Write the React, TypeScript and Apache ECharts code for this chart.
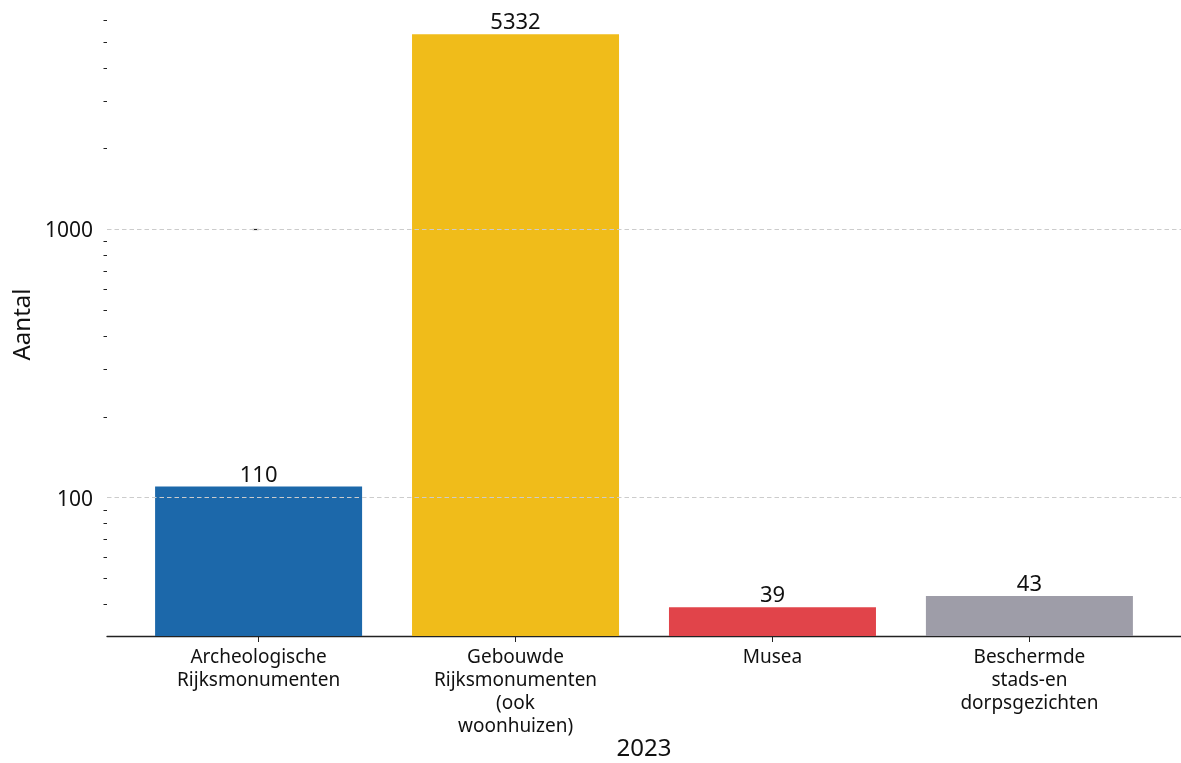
import React, { useEffect, useRef } from "react";
import * as echarts from "echarts";

const categories = [
  "Archeologische\nRijksmonumenten",
  "Gebouwde\nRijksmonumenten\n(ook\nwoonhuizen)",
  "Musea",
  "Beschermde\nstads-en\ndorpsgezichten",
];
const values = [110, 5332, 39, 43];
const colors = ["#1c68aa", "#f0bc1a", "#e1444a", "#9e9da8"];
const majorTicks = [100, 1000];
const minorTicks = [40, 50, 60, 70, 80, 90, 200, 300, 400, 500, 600, 700, 800, 900, 2000, 3000, 4000, 5000, 6000];
const yName = "Aantal";
const xName = "2023";

const FONT = "Noto Sans";

export default function App() {
  const ref = useRef<HTMLDivElement>(null);
  useEffect(() => {
    if (!ref.current) return;
    const chart = echarts.init(ref.current, null, { renderer: "svg" });
    const positions = categories.map((_, i) => i);
    chart.setOption({
      animation: false,
      textStyle: { fontFamily: FONT, color: "#111" },
      grid: { left: 107, right: -10.5, top: 13, bottom: 123, containLabel: false },
      xAxis: [
        {
          type: "value",
          min: -0.59,
          max: 3.59,
          name: xName,
          nameLocation: "middle",
          nameGap: 98,
          nameMoveOverlap: false,
          nameTextStyle: { fontSize: 24, color: "#111", fontFamily: FONT },
          axisLine: { show: true, onZero: false, lineStyle: { color: "#222", width: 1.3 } },
          axisTick: { show: true, customValues: positions, length: 6, lineStyle: { color: "#222" } },
          axisLabel: {
            customValues: positions,
            formatter: (v: number) => categories[Math.round(v)] ?? "",
            fontSize: 19,
            lineHeight: 23,
            color: "#111",
            margin: 8,
            fontFamily: FONT,
          },
          splitLine: { show: false },
        },
      ],
      yAxis: [
        {
          type: "log",
          min: 30.5,
          max: 6400,
          name: yName,
          nameLocation: "middle",
          nameGap: 75,
          nameMoveOverlap: false,
          nameTextStyle: { fontSize: 24, color: "#111", fontFamily: FONT },
          axisLine: { show: false },
          axisTick: { show: true, customValues: majorTicks, length: 6, lineStyle: { color: "#222", width: 1.2 } },
          axisLabel: {
            customValues: majorTicks,
            formatter: (v: number) => String(v),
            fontSize: 21,
            color: "#111",
            margin: 14,
            fontFamily: FONT,
          },
          splitLine: { show: false },
        },
        {
          type: "log",
          min: 30.5,
          max: 6400,
          position: "left",
          axisLine: { show: false },
          axisTick: { show: true, customValues: minorTicks, length: 3.5, lineStyle: { color: "#222", width: 1 } },
          axisLabel: { show: false },
          splitLine: { show: false },
        },
        {
          type: "log",
          min: 30.5,
          max: 6400,
          position: "left",
          z: 10,
          axisLine: { show: false },
          axisTick: { show: false, customValues: majorTicks },
          axisLabel: { show: false, customValues: majorTicks },
          splitLine: { show: true, lineStyle: { color: "#cccccc", type: [4.5, 3], width: 1 } },
        },
      ],
      series: [
        {
          type: "bar",
          xAxisIndex: 0,
          yAxisIndex: 0,
          barWidth: 207,
          data: values.map((v, i) => ({ value: [i, v], itemStyle: { color: colors[i] } })),
          label: {
            show: true,
            position: "top",
            distance: 3,
            fontSize: 22,
            color: "#111",
            fontFamily: FONT,
            formatter: (p: any) => String(p.value[1]),
          },
        },
      ],
    });
    return () => chart.dispose();
  }, []);
  return <div ref={ref} style={{ position: "fixed", left: 0, top: 0, width: 1181, height: 763 }} />;
}
